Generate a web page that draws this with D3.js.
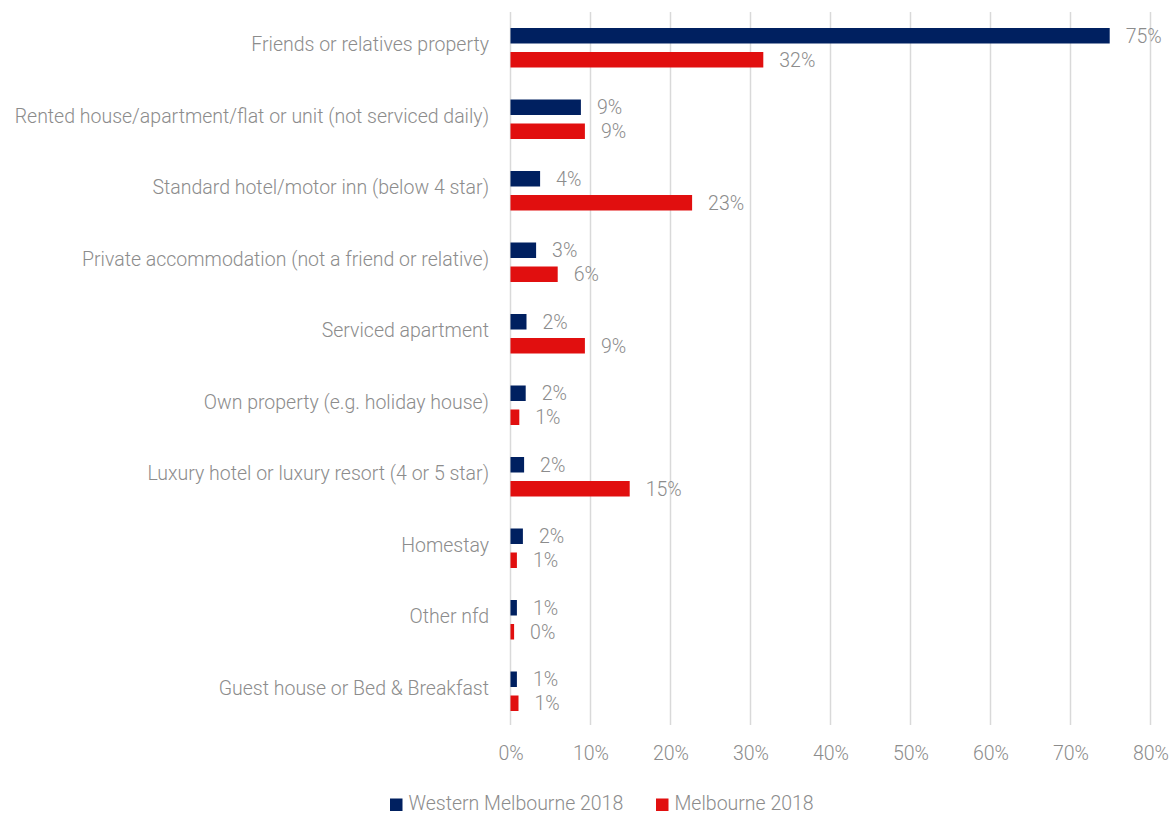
<!DOCTYPE html>
<html><head><meta charset="utf-8">
<script src="https://cdn.jsdelivr.net/npm/d3@7"></script>
<style>
body{margin:0;background:#fff;}
svg{display:block;font-family:Roboto, "Noto Sans", sans-serif;font-weight:300;}
</style></head>
<body>
<svg id="chart" width="1173" height="815"></svg>
<script>
const categories = [
  "Friends or relatives property",
  "Rented house/apartment/flat or unit (not serviced daily)",
  "Standard hotel/motor inn (below 4 star)",
  "Private accommodation (not a friend or relative)",
  "Serviced apartment",
  "Own property (e.g. holiday house)",
  "Luxury hotel or luxury resort (4 or 5 star)",
  "Homestay",
  "Other nfd",
  "Guest house or Bed & Breakfast"
];
const seriesNames = ["Western Melbourne 2018", "Melbourne 2018"];
const westernValues = [74.9, 8.8, 3.7, 3.2, 2.0, 1.9, 1.7, 1.55, 0.8, 0.8];
const melbourneValues = [31.6, 9.3, 22.7, 5.9, 9.3, 1.1, 14.9, 0.8, 0.45, 1.0];
const xTicks = [0, 10, 20, 30, 40, 50, 60, 70, 80];
const colors = ["#002060", "#E10F0F"];

const svg = d3.select("#chart");
const mLeft = 510.5, mRight = 1150.5, mTop = 12, mBottom = 727;
const x = d3.scaleLinear().domain([0, 80]).range([mLeft, mRight]);
const y0 = d3.scaleBand().domain(categories).range([mTop, mBottom]).padding(0);
const y1 = d3.scaleBand().domain(seriesNames).range([0, 39.5]).paddingInner(8.5/24).paddingOuter(0);
const off = (y0.bandwidth() - 39.5) / 2;
const textColor = "#8c8c8c";
const fs = 19.5;

// gridlines
svg.append("g").selectAll("line").data(xTicks).join("line")
  .attr("x1", d => x(d)).attr("x2", d => x(d))
  .attr("y1", mTop).attr("y2", 725)
  .attr("stroke", "#d9d9d9").attr("stroke-width", 1.5);

// x axis labels
const xAxis = d3.axisBottom(x).tickValues(xTicks).tickFormat(d => d + "%").tickSize(0).tickPadding(0);
const gx = svg.append("g").attr("transform", `translate(0,${759.5})`).call(xAxis);
gx.select(".domain").remove();
gx.selectAll("text").attr("fill", textColor).attr("font-size", fs).attr("font-family", "Roboto").attr("font-weight", 300).attr("dy", 0).attr("y", 0);

// category labels
const yAxis = d3.axisLeft(y0).tickSize(0).tickPadding(0);
const gy = svg.append("g").attr("transform", `translate(489,0)`).call(yAxis);
gy.select(".domain").remove();
gy.selectAll("text").attr("fill", textColor).attr("font-size", fs).attr("font-family", "Roboto").attr("font-weight", 300).attr("dy", "0.32em").attr("y", -2.8);

const rows = categories.map((c, i) => ({cat: c, vals: [westernValues[i], melbourneValues[i]]}));
const groups = svg.append("g").selectAll("g").data(rows).join("g")
  .attr("transform", d => `translate(0,${y0(d.cat) + off})`);

groups.selectAll("rect").data(d => d.vals.map((v, j) => ({v, s: seriesNames[j], j}))).join("rect")
  .attr("x", x(0)).attr("y", d => y1(d.s))
  .attr("width", d => x(d.v) - x(0)).attr("height", y1.bandwidth())
  .attr("fill", d => colors[d.j]);

groups.selectAll("text").data(d => d.vals.map((v, j) => ({v, s: seriesNames[j], j}))).join("text")
  .attr("x", d => x(d.v) + 16).attr("y", d => y1(d.s) + y1.bandwidth()/2)
  .attr("dy", "0.35em")
  .attr("fill", textColor).attr("font-size", fs)
  .text(d => Math.round(d.v) + "%");

// legend
const legend = svg.append("g");
const lx = [390, 656];
seriesNames.forEach((s, i) => {
  legend.append("rect").attr("x", lx[i]).attr("y", 798.5).attr("width", 12.5).attr("height", 12.5).attr("fill", colors[i]);
  legend.append("text").attr("x", lx[i] + 18.5).attr("y", 810).attr("fill", textColor).attr("font-size", fs).text(s);
});
</script>
</body></html>
